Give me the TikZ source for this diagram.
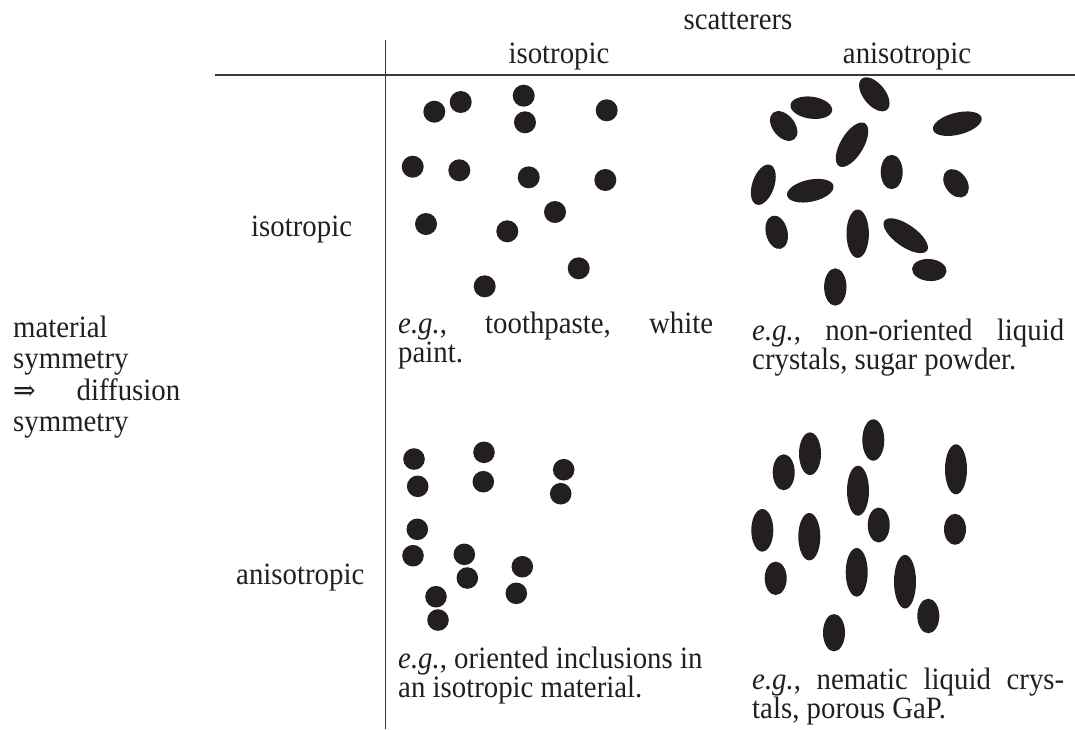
\documentclass[tikz,border=0pt]{standalone}
\usepackage{fontspec}
\setmainfont{Liberation Serif}
\newfontfamily\arrowfont{DejaVu Serif}
\definecolor{ink}{HTML}{231F20}
\definecolor{rule}{HTML}{3A3A3A}
\newcommand{\cz}[1]{\scalebox{0.93}[1]{#1}}
\begin{document}
\begin{tikzpicture}[x=1pt,y=-1pt,
  lbl/.style={inner sep=0pt, font=\fontsize{31}{30}\selectfont, text=ink},
  sc/.style={fill=ink},
  gridline/.style={draw=rule, line width=1.1pt}]
\useasboundingbox (0,0) rectangle (1075,729);
% table rules
\coordinate (hl) at (215,75);
\coordinate (hr) at (1075,75);
\coordinate (vt) at (385,40);
\coordinate (vb) at (385,729);
\draw[gridline] (hl) -- (hr);
\draw[gridline, line width=0.9pt] (vt) -- (vb);
% headers
\node[lbl, anchor=base] (scat) at (738,29) {\cz{scatterers}};
\node[lbl, anchor=base] (hiso) at (559,63) {\cz{isotropic}};
\node[lbl, anchor=base] (haniso) at (907,63) {\cz{anisotropic}};
\node[lbl, anchor=base west] (riso) at (251,236) {\cz{isotropic}};
\node[lbl, anchor=base west] (raniso) at (236,584) {\cz{anisotropic}};
\node[lbl, anchor=base west] (matsym) at (13,337) {\cz{\vtop{\baselineskip=31.5pt
  \hbox{material}\hbox{symmetry}\hbox to 179.6pt{{\arrowfont\fontsize{29}{30}\selectfont ⇒}\hfill diffusion}\hbox{symmetry}}}};
% captions
\node[lbl, anchor=base west] (cap11) at (398,333) {\cz{\vtop{\baselineskip=29.5pt
  \hbox to 338.7pt{\textit{e.g.},\hfill toothpaste,\hfill white}\hbox{paint.}}}};
\node[lbl, anchor=base west] (cap12) at (752,340) {\cz{\vtop{\baselineskip=29.5pt
  \hbox to 335.5pt{\textit{e.g.},\hfill non-oriented\hfill liquid}\hbox{crystals, sugar powder.}}}};
\node[lbl, anchor=base west] (cap21) at (398,668) {\cz{\vtop{\baselineskip=29.5pt
  \hbox{\textit{e.g.}, oriented inclusions in}\hbox{an isotropic material.}}}};
\node[lbl, anchor=base west] (cap22) at (752,689) {\cz{\vtop{\baselineskip=29.5pt
  \hbox to 335.5pt{\textit{e.g.},\hfill nematic\hfill liquid\hfill crys-}\hbox{tals, porous GaP.}}}};
% isotropic material, isotropic scatterers
\foreach \x/\y in {434.3/111.7, 460.7/102, 523.7/95.7, 525/122.3, 606.7/110.3,
  412.7/166.7, 459.3/170.3, 528.7/177.3, 605.3/180, 426/224, 507.3/231.3,
  555/212, 578.7/268.3, 484.7/286.3}
  \fill[sc] (\x,\y) circle (11pt);
% anisotropic material, isotropic scatterers
\foreach \x/\y in {414/459, 417.7/486.3, 484/452.3, 483.3/481.7, 563.7/469.7,
  560.7/493.7, 417.3/529.3, 413/555.7, 464.3/554.3, 467.3/578, 522.3/566.7,
  516.3/593.3, 436/596.7, 438/620}
  \fill[sc] (\x,\y) circle (10.8pt);
% isotropic material, anisotropic scatterers
\foreach \x/\y/\a/\b/\r in {783.7/126/17/11/-51, 811.3/107.7/21/11/-8,
  874.3/94.3/20/11/-51, 957.3/123.7/25/11/14, 852/144.7/25/11.5/59,
  891.7/172/17.2/11/90, 956/183.3/15.6/11/-54, 763.3/184.7/21/11/71,
  810.3/190.7/23.7/11/12, 776.7/232.3/17/10.8/-76, 857.7/233.7/24.2/11.2/90,
  905.7/235.7/26/11/-35, 929.3/270/17.3/11/-5, 835.3/287/18.7/11.2/90}
  \fill[sc, rotate around={\r:(\x,\y)}] (\x,\y) ellipse (\a pt and \b pt);
% anisotropic material, anisotropic scatterers
\foreach \x/\y/\b in {783.7/472.3/18, 810/453.7/21.3, 873.3/440/20.7,
  956/469.3/25, 858/490.7/25, 878.7/525/17.5, 955/529.3/15.5, 762.3/530.3/21.3,
  809.3/536.7/23.7, 775.7/578.3/16.7, 856.7/572.3/24.3, 905/581.7/26.8,
  928.3/616/17.3, 834/632.7/18.7}
  \fill[sc] (\x,\y) ellipse (11pt and \b pt);
\end{tikzpicture}
\end{document}
